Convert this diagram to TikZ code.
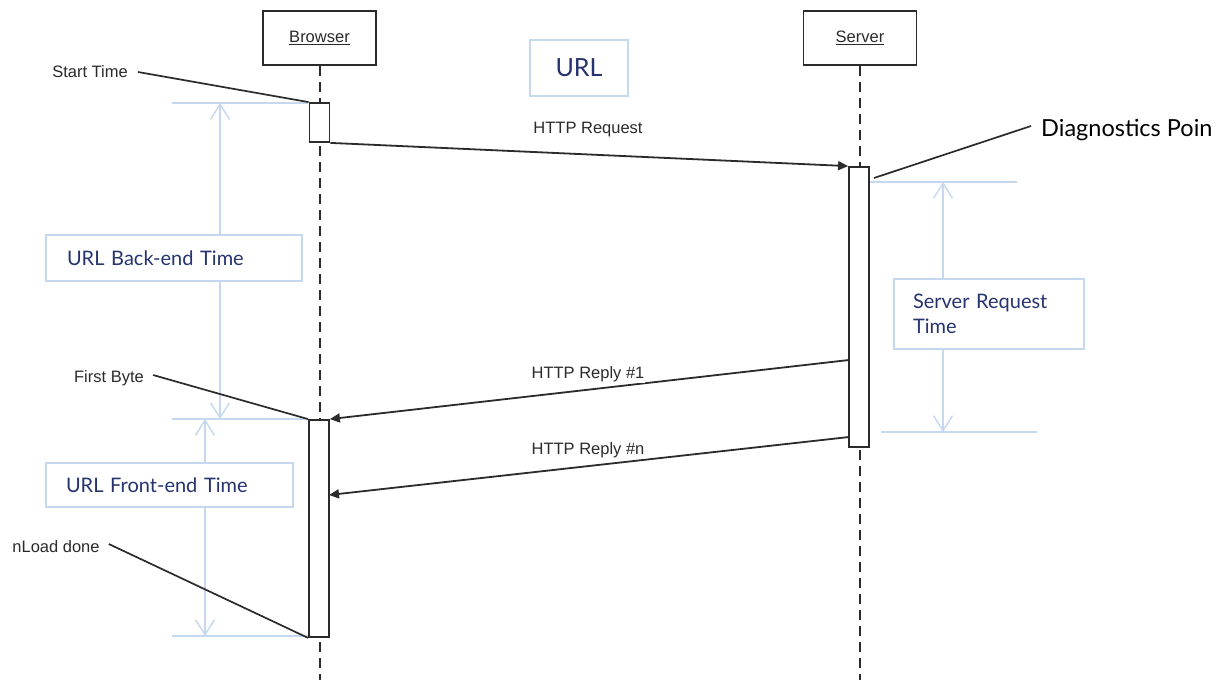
\documentclass[tikz,border=0pt]{standalone}
\usepackage{fontspec}
\setmainfont{Liberation Sans}
\newfontfamily\futfont{Lato}
\usetikzlibrary{arrows.meta}
\definecolor{navy}{HTML}{26336F}
\definecolor{lblue}{HTML}{C5D8F0}
\definecolor{ink}{HTML}{2B2B2B}
\begin{document}
\begin{tikzpicture}[x=1pt,y=-1pt,
  lifebox/.style={draw=ink, line width=1.8pt, fill=white, minimum width=113pt, minimum height=54pt, inner sep=0pt, font=\fontsize{16.5}{19}\selectfont, text=ink},
  actbox/.style={draw=ink, line width=1.8pt, fill=white, minimum width=20pt, inner sep=0pt},
  lifeline/.style={draw=ink, line width=2pt, dash pattern=on 10pt off 6pt},
  msg/.style={draw=ink, line width=1.8pt, -{Triangle[length=10pt,width=9pt]}},
  lead/.style={draw=ink, line width=1.7pt},
  lbl/.style={font=\fontsize{16.5}{19}\selectfont, text=ink, inner sep=1pt},
  msglbl/.style={lbl, fill=white},
  bluebox/.style={draw=lblue, line width=1.5pt, fill=white, inner ysep=0pt, align=left, font=\futfont\fontsize{20}{25}\selectfont, text=navy},
  ext/.style={draw=lblue, line width=1.4pt},
  dim/.style={draw=lblue, line width=1.4pt, {Straight Barb[length=15pt,width=19pt]}-{Straight Barb[length=15pt,width=19pt]}},
]
\useasboundingbox (0,0) rectangle (1217,680);
\fill[white] (0,0) rectangle (1217,680);

% lifelines
\node[lifebox] (browser) at (319.5,38) {\underline{Browser}};
\node[lifebox] (server) at (860,38) {\underline{Server}};
\coordinate (bend) at (319.5,680);
\coordinate (send) at (860,680);
\draw[lifeline] (browser.south) -- (bend);
\draw[lifeline] (server.south) -- (send);

% dimension lines
\coordinate (e1a) at (172,103); \coordinate (e1b) at (308,103);
\coordinate (e2a) at (172,419); \coordinate (e2b) at (308,419);
\coordinate (e3a) at (172,636); \coordinate (e3b) at (313,636);
\coordinate (e4a) at (860,182); \coordinate (e4b) at (1017,182);
\coordinate (e5a) at (881,432); \coordinate (e5b) at (1037,432);
\draw[ext] (e1a) -- (e1b);
\draw[ext] (e2a) -- (e2b);
\draw[ext] (e3a) -- (e3b);
\draw[ext] (e4a) -- (e4b);
\draw[ext] (e5a) -- (e5b);
\coordinate (d1t) at (220,103); \coordinate (d1b) at (220,419);
\coordinate (d2t) at (205,419); \coordinate (d2b) at (205,636);
\coordinate (d3t) at (943,182); \coordinate (d3b) at (943,432);
\draw[dim] (d1t) -- (d1b);
\draw[dim] (d2t) -- (d2b);
\draw[dim] (d3t) -- (d3b);

% activation boxes
\node[actbox, minimum height=39pt] (act1) at (319.5,122.5) {};
\node[actbox, minimum height=217pt] (act2) at (319,528.5) {};
\node[actbox, minimum height=280pt] (act3) at (859,307) {};

% messages
\coordinate (r1s) at (849,360);
\coordinate (r2s) at (849,437);
\coordinate (r2e) at (329,495);
\draw[msg] (act1.south east) -- (act3.north west);
\draw[msg] (r1s) -- (act2.north east);
\draw[msg] (r2s) -- (r2e);
\node[lbl] (lreq) at (588,130) {HTTP Request};
\node[msglbl] (lr1) at (588,374) {HTTP Reply \#1};
\node[msglbl] (lrn) at (588,450) {HTTP Reply \#n};

% leader labels
\node[lbl] (st) at (90,72) {Start Time};
\node[lbl] (fb) at (109,378) {First Byte};
\node[lbl] (ol) at (56,547) {nLoad done};
\draw[lead] ([xshift=9pt]st.east) -- (act1.north west);
\draw[lead] ([xshift=8pt,yshift=3pt]fb.east) -- (act2.north west);
\draw[lead] ([xshift=8pt,yshift=3pt]ol.east) -- (act2.south west);

\node[anchor=west, inner sep=0pt, font=\futfont\fontsize{23.5}{27}\selectfont, text=black] (diag) at (1041,130) {Diagnostics Poin};
\coordinate (dp) at (874,178);
\draw[lead] (dp) -- ([xshift=-10pt,yshift=4pt]diag.west);

% blue boxes
\node[bluebox, minimum width=98pt, minimum height=56pt, align=center, font=\futfont\fontsize{25}{28}\selectfont] (url) at (579,68) {URL};
\node[bluebox, minimum height=46pt, inner xsep=21pt, text width=214pt] (be) at (174,258) {URL Back-end Time};
\node[bluebox, minimum height=44pt, inner xsep=20pt, text width=207pt] (fe) at (169.5,485) {URL Front-end Time};
\node[bluebox, minimum height=70pt, inner xsep=19pt, text width=152pt] (srt) at (989,314) {Server Request\\Time};
\end{tikzpicture}
\end{document}
